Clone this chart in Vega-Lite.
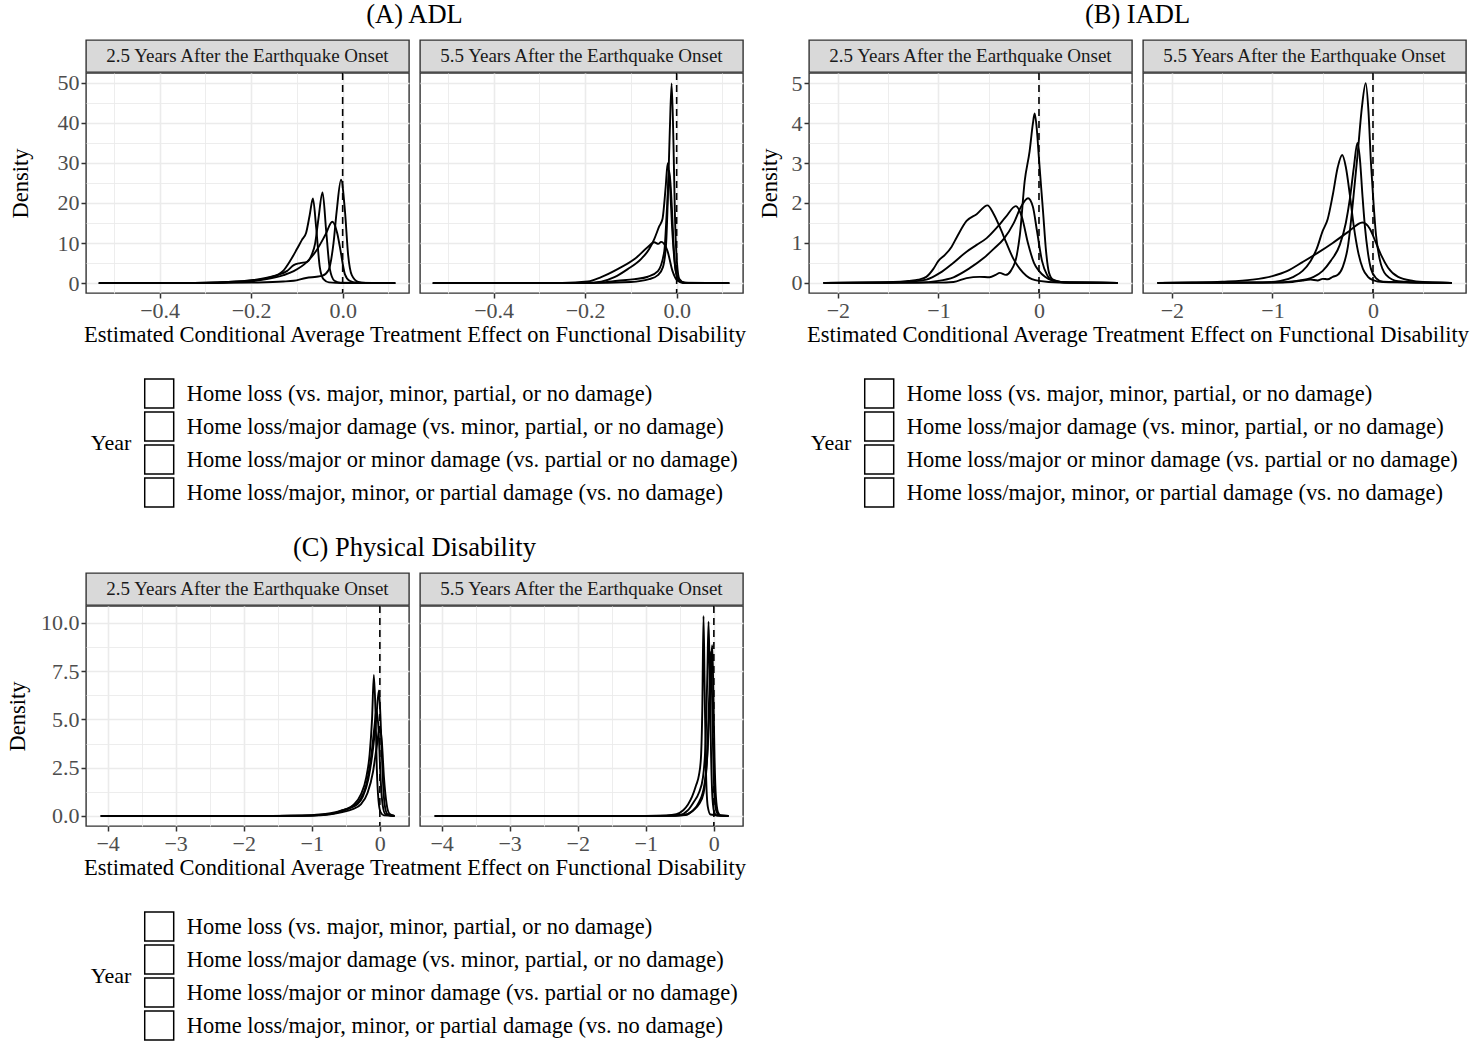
{
"$schema": "https://vega.github.io/schema/vega-lite/v6.json",
"padding": {"left": 5, "top": 0, "right": 0, "bottom": 0},
"background": "white",
"config": {
  "font": "Liberation Serif",
  "view": {"stroke": "#333333", "strokeWidth": 1.4},
  "axis": {"labelFont": "Liberation Serif", "titleFont": "Liberation Serif", "labelFontSize": 22, "titleFontSize": 22.5, "titleFontWeight": "normal", "labelColor": "#4d4d4d", "titleColor": "#000000", "tickColor": "#333333", "tickWidth": 1.5, "tickSize": 5, "labelPadding": 2, "domain": false, "gridColor": "#ebebeb", "gridWidth": 1.6, "titlePadding": 2, "labelFlush": false, "labelOverlap": false, "labelBound": false},
  "legend": {"titleFont": "Liberation Serif", "labelFont": "Liberation Serif", "titleFontSize": 22, "titleFontWeight": "normal", "titleColor": "#000000", "labelFontSize": 22.5, "labelColor": "#000000", "titleOrient": "left", "titleAnchor": "middle", "titleBaseline": "middle", "titlePadding": 12, "symbolType": "square", "symbolSize": 841, "symbolStrokeWidth": 1.5, "symbolFillColor": "white", "symbolStrokeColor": "black", "clipHeight": 33, "rowPadding": 0, "labelOffset": 12, "padding": 0, "labelLimit": 0, "direction": "vertical"},
  "title": {"font": "Liberation Serif", "fontSize": 26.5, "fontWeight": "normal", "color": "#000000"}
},
"datasets": {
  "groups": [
    {"g": 1, "label": "Home loss (vs. major, minor, partial, or no damage)"},
    {"g": 2, "label": "Home loss/major damage (vs. minor, partial, or no damage)"},
    {"g": 3, "label": "Home loss/major or minor damage (vs. partial or no damage)"},
    {"g": 4, "label": "Home loss/major, minor, or partial damage (vs. no damage)"}
  ],
  "A25": [
    {"g":1,"x":-0.533,"y":0},{"g":1,"x":-0.35,"y":0.05},{"g":1,"x":-0.25,"y":0.3},{"g":1,"x":-0.2,"y":0.6},{"g":1,"x":-0.166,"y":1.2},{"g":1,"x":-0.14,"y":2.2},{"g":1,"x":-0.129,"y":3.2},{"g":1,"x":-0.115,"y":5.5},{"g":1,"x":-0.1,"y":8.5},{"g":1,"x":-0.089,"y":10.8},{"g":1,"x":-0.08,"y":12.5},{"g":1,"x":-0.072,"y":17},{"g":1,"x":-0.065,"y":21.1},{"g":1,"x":-0.058,"y":14},{"g":1,"x":-0.05,"y":4},{"g":1,"x":-0.042,"y":1},{"g":1,"x":-0.03,"y":0.2},{"g":1,"x":0,"y":0.02},{"g":1,"x":0.115,"y":0},
    {"g":2,"x":-0.533,"y":0},{"g":2,"x":-0.35,"y":0.05},{"g":2,"x":-0.25,"y":0.3},{"g":2,"x":-0.195,"y":0.8},{"g":2,"x":-0.15,"y":1.8},{"g":2,"x":-0.122,"y":3},{"g":2,"x":-0.107,"y":4.5},{"g":2,"x":-0.093,"y":5},{"g":2,"x":-0.078,"y":5.3},{"g":2,"x":-0.068,"y":7},{"g":2,"x":-0.06,"y":10},{"g":2,"x":-0.053,"y":16},{"g":2,"x":-0.044,"y":22.6},{"g":2,"x":-0.036,"y":13},{"g":2,"x":-0.028,"y":3.5},{"g":2,"x":-0.018,"y":0.6},{"g":2,"x":-0.005,"y":0.1},{"g":2,"x":0.115,"y":0},
    {"g":3,"x":-0.533,"y":0},{"g":3,"x":-0.3,"y":0.05},{"g":3,"x":-0.2,"y":0.5},{"g":3,"x":-0.166,"y":1},{"g":3,"x":-0.129,"y":2},{"g":3,"x":-0.107,"y":3},{"g":3,"x":-0.078,"y":5.3},{"g":3,"x":-0.057,"y":8.2},{"g":3,"x":-0.038,"y":12},{"g":3,"x":-0.0225,"y":15.3},{"g":3,"x":-0.012,"y":12.5},{"g":3,"x":-0.006,"y":9},{"g":3,"x":0.005,"y":2.2},{"g":3,"x":0.015,"y":0.6},{"g":3,"x":0.03,"y":0.1},{"g":3,"x":0.115,"y":0},
    {"g":4,"x":-0.533,"y":0},{"g":4,"x":-0.3,"y":0.02},{"g":4,"x":-0.2,"y":0.15},{"g":4,"x":-0.13,"y":0.4},{"g":4,"x":-0.107,"y":0.6},{"g":4,"x":-0.08,"y":1.3},{"g":4,"x":-0.057,"y":1.6},{"g":4,"x":-0.045,"y":1.8},{"g":4,"x":-0.031,"y":3.2},{"g":4,"x":-0.02,"y":10},{"g":4,"x":-0.013,"y":18},{"g":4,"x":-0.0036,"y":25.8},{"g":4,"x":0.005,"y":18},{"g":4,"x":0.012,"y":7},{"g":4,"x":0.02,"y":2},{"g":4,"x":0.034,"y":0.3},{"g":4,"x":0.05,"y":0.05},{"g":4,"x":0.115,"y":0}
  ],
  "A55": [
    {"g":1,"x":-0.533,"y":0},{"g":1,"x":-0.2,"y":0.02},{"g":1,"x":-0.1,"y":0.3},{"g":1,"x":-0.06,"y":1},{"g":1,"x":-0.041,"y":2},{"g":1,"x":-0.03,"y":4},{"g":1,"x":-0.023,"y":10},{"g":1,"x":-0.0196,"y":20},{"g":1,"x":-0.015,"y":38},{"g":1,"x":-0.011,"y":49.8},{"g":1,"x":-0.007,"y":35},{"g":1,"x":-0.004,"y":18},{"g":1,"x":0.0007,"y":5},{"g":1,"x":0.006,"y":1},{"g":1,"x":0.017,"y":0.1},{"g":1,"x":0.115,"y":0},
    {"g":2,"x":-0.533,"y":0},{"g":2,"x":-0.2,"y":0.05},{"g":2,"x":-0.165,"y":0.4},{"g":2,"x":-0.136,"y":1.5},{"g":2,"x":-0.107,"y":3.5},{"g":2,"x":-0.078,"y":6},{"g":2,"x":-0.06,"y":8.5},{"g":2,"x":-0.049,"y":11},{"g":2,"x":-0.038,"y":14.2},{"g":2,"x":-0.031,"y":16},{"g":2,"x":-0.024,"y":24},{"g":2,"x":-0.0196,"y":29.9},{"g":2,"x":-0.015,"y":25},{"g":2,"x":-0.009,"y":12},{"g":2,"x":-0.002,"y":3},{"g":2,"x":0.006,"y":0.5},{"g":2,"x":0.02,"y":0.05},{"g":2,"x":0.115,"y":0},
    {"g":3,"x":-0.533,"y":0},{"g":3,"x":-0.25,"y":0.05},{"g":3,"x":-0.194,"y":0.4},{"g":3,"x":-0.165,"y":1.5},{"g":3,"x":-0.129,"y":3.5},{"g":3,"x":-0.092,"y":6},{"g":3,"x":-0.063,"y":9},{"g":3,"x":-0.049,"y":10.2},{"g":3,"x":-0.04,"y":9.8},{"g":3,"x":-0.034,"y":10.3},{"g":3,"x":-0.02,"y":8},{"g":3,"x":-0.009,"y":3},{"g":3,"x":0.002,"y":0.6},{"g":3,"x":0.015,"y":0.05},{"g":3,"x":0.115,"y":0},
    {"g":4,"x":-0.533,"y":0},{"g":4,"x":-0.2,"y":0.03},{"g":4,"x":-0.165,"y":0.2},{"g":4,"x":-0.129,"y":0.6},{"g":4,"x":-0.092,"y":1},{"g":4,"x":-0.063,"y":1.6},{"g":4,"x":-0.041,"y":3},{"g":4,"x":-0.027,"y":8},{"g":4,"x":-0.021,"y":19},{"g":4,"x":-0.016,"y":28},{"g":4,"x":-0.011,"y":20},{"g":4,"x":-0.006,"y":8},{"g":4,"x":0,"y":2},{"g":4,"x":0.01,"y":0.3},{"g":4,"x":0.025,"y":0.03},{"g":4,"x":0.115,"y":0}
  ],
  "B25": [
    {"g":1,"x":-2.143,"y":0},{"g":1,"x":-1.6,"y":0.01},{"g":1,"x":-1.45,"y":0.02},{"g":1,"x":-1.3,"y":0.05},{"g":1,"x":-1.2,"y":0.08},{"g":1,"x":-1.12,"y":0.15},{"g":1,"x":-1.05,"y":0.35},{"g":1,"x":-1.0,"y":0.55},{"g":1,"x":-0.935,"y":0.7},{"g":1,"x":-0.87,"y":0.9},{"g":1,"x":-0.82,"y":1.13},{"g":1,"x":-0.72,"y":1.55},{"g":1,"x":-0.62,"y":1.72},{"g":1,"x":-0.512,"y":1.94},{"g":1,"x":-0.456,"y":1.75},{"g":1,"x":-0.39,"y":1.4},{"g":1,"x":-0.324,"y":1.0},{"g":1,"x":-0.258,"y":0.62},{"g":1,"x":-0.19,"y":0.35},{"g":1,"x":-0.126,"y":0.18},{"g":1,"x":0,"y":0.05},{"g":1,"x":0.2,"y":0.01},{"g":1,"x":0.784,"y":0},
    {"g":2,"x":-2.143,"y":0},{"g":2,"x":-1.5,"y":0.01},{"g":2,"x":-1.28,"y":0.03},{"g":2,"x":-1.12,"y":0.08},{"g":2,"x":-0.985,"y":0.25},{"g":2,"x":-0.853,"y":0.5},{"g":2,"x":-0.72,"y":0.78},{"g":2,"x":-0.62,"y":0.95},{"g":2,"x":-0.52,"y":1.12},{"g":2,"x":-0.42,"y":1.38},{"g":2,"x":-0.33,"y":1.65},{"g":2,"x":-0.231,"y":1.92},{"g":2,"x":-0.17,"y":1.65},{"g":2,"x":-0.11,"y":1.0},{"g":2,"x":-0.05,"y":0.5},{"g":2,"x":0,"y":0.3},{"g":2,"x":0.06,"y":0.15},{"g":2,"x":0.14,"y":0.05},{"g":2,"x":0.3,"y":0.01},{"g":2,"x":0.784,"y":0},
    {"g":3,"x":-2.143,"y":0},{"g":3,"x":-1.2,"y":0.01},{"g":3,"x":-1.0,"y":0.05},{"g":3,"x":-0.85,"y":0.14},{"g":3,"x":-0.7,"y":0.35},{"g":3,"x":-0.55,"y":0.62},{"g":3,"x":-0.45,"y":0.85},{"g":3,"x":-0.35,"y":1.1},{"g":3,"x":-0.25,"y":1.5},{"g":3,"x":-0.18,"y":1.9},{"g":3,"x":-0.109,"y":2.12},{"g":3,"x":-0.06,"y":1.9},{"g":3,"x":-0.02,"y":1.3},{"g":3,"x":0.03,"y":0.55},{"g":3,"x":0.08,"y":0.2},{"g":3,"x":0.14,"y":0.06},{"g":3,"x":0.3,"y":0.01},{"g":3,"x":0.784,"y":0},
    {"g":4,"x":-2.143,"y":0},{"g":4,"x":-1.0,"y":0.005},{"g":4,"x":-0.85,"y":0.02},{"g":4,"x":-0.72,"y":0.12},{"g":4,"x":-0.59,"y":0.15},{"g":4,"x":-0.49,"y":0.14},{"g":4,"x":-0.43,"y":0.2},{"g":4,"x":-0.39,"y":0.25},{"g":4,"x":-0.33,"y":0.2},{"g":4,"x":-0.28,"y":0.3},{"g":4,"x":-0.22,"y":0.7},{"g":4,"x":-0.19,"y":1.2},{"g":4,"x":-0.142,"y":2.55},{"g":4,"x":-0.093,"y":3.3},{"g":4,"x":-0.06,"y":4.0},{"g":4,"x":-0.043,"y":4.24},{"g":4,"x":-0.02,"y":3.8},{"g":4,"x":0,"y":3.1},{"g":4,"x":0.04,"y":1.8},{"g":4,"x":0.07,"y":0.8},{"g":4,"x":0.1,"y":0.25},{"g":4,"x":0.14,"y":0.08},{"g":4,"x":0.25,"y":0.01},{"g":4,"x":0.784,"y":0}
  ],
  "B55": [
    {"g":1,"x":-2.143,"y":0},{"g":1,"x":-1.0,"y":0.005},{"g":1,"x":-0.8,"y":0.02},{"g":1,"x":-0.7,"y":0.06},{"g":1,"x":-0.62,"y":0.08},{"g":1,"x":-0.55,"y":0.06},{"g":1,"x":-0.5,"y":0.1},{"g":1,"x":-0.45,"y":0.09},{"g":1,"x":-0.4,"y":0.15},{"g":1,"x":-0.35,"y":0.2},{"g":1,"x":-0.3,"y":0.4},{"g":1,"x":-0.25,"y":0.9},{"g":1,"x":-0.2,"y":2.0},{"g":1,"x":-0.15,"y":3.3},{"g":1,"x":-0.11,"y":4.4},{"g":1,"x":-0.072,"y":5.0},{"g":1,"x":-0.045,"y":4.3},{"g":1,"x":-0.02,"y":3.0},{"g":1,"x":0,"y":2.2},{"g":1,"x":0.03,"y":1.2},{"g":1,"x":0.066,"y":0.6},{"g":1,"x":0.13,"y":0.2},{"g":1,"x":0.25,"y":0.04},{"g":1,"x":0.5,"y":0.005},{"g":1,"x":0.784,"y":0},
    {"g":2,"x":-2.143,"y":0},{"g":2,"x":-1.0,"y":0.01},{"g":2,"x":-0.76,"y":0.05},{"g":2,"x":-0.59,"y":0.15},{"g":2,"x":-0.5,"y":0.3},{"g":2,"x":-0.42,"y":0.55},{"g":2,"x":-0.33,"y":0.95},{"g":2,"x":-0.27,"y":1.5},{"g":2,"x":-0.23,"y":2.1},{"g":2,"x":-0.19,"y":2.9},{"g":2,"x":-0.155,"y":3.5},{"g":2,"x":-0.13,"y":3.1},{"g":2,"x":-0.105,"y":2.2},{"g":2,"x":-0.08,"y":1.4},{"g":2,"x":-0.05,"y":0.75},{"g":2,"x":-0.02,"y":0.35},{"g":2,"x":0.03,"y":0.12},{"g":2,"x":0.1,"y":0.03},{"g":2,"x":0.784,"y":0},
    {"g":3,"x":-2.143,"y":0},{"g":3,"x":-1.1,"y":0.01},{"g":3,"x":-0.92,"y":0.05},{"g":3,"x":-0.79,"y":0.15},{"g":3,"x":-0.7,"y":0.3},{"g":3,"x":-0.62,"y":0.55},{"g":3,"x":-0.56,"y":0.85},{"g":3,"x":-0.5,"y":1.3},{"g":3,"x":-0.45,"y":1.6},{"g":3,"x":-0.4,"y":2.2},{"g":3,"x":-0.35,"y":2.9},{"g":3,"x":-0.306,"y":3.2},{"g":3,"x":-0.27,"y":2.9},{"g":3,"x":-0.23,"y":2.2},{"g":3,"x":-0.19,"y":1.4},{"g":3,"x":-0.15,"y":0.8},{"g":3,"x":-0.1,"y":0.35},{"g":3,"x":-0.05,"y":0.15},{"g":3,"x":0,"y":0.07},{"g":3,"x":0.1,"y":0.02},{"g":3,"x":0.784,"y":0},
    {"g":4,"x":-2.143,"y":0},{"g":4,"x":-1.8,"y":0.01},{"g":4,"x":-1.5,"y":0.03},{"g":4,"x":-1.2,"y":0.08},{"g":4,"x":-1.0,"y":0.17},{"g":4,"x":-0.85,"y":0.3},{"g":4,"x":-0.7,"y":0.52},{"g":4,"x":-0.55,"y":0.75},{"g":4,"x":-0.4,"y":1.0},{"g":4,"x":-0.25,"y":1.27},{"g":4,"x":-0.105,"y":1.51},{"g":4,"x":-0.03,"y":1.35},{"g":4,"x":0.03,"y":1.0},{"g":4,"x":0.08,"y":0.7},{"g":4,"x":0.15,"y":0.38},{"g":4,"x":0.25,"y":0.15},{"g":4,"x":0.4,"y":0.05},{"g":4,"x":0.55,"y":0.015},{"g":4,"x":0.784,"y":0}
  ],
  "C25": [
    {"g":1,"x":-4.1,"y":0},{"g":1,"x":-2.0,"y":0.002},{"g":1,"x":-1.3,"y":0.01},{"g":1,"x":-1.0,"y":0.04},{"g":1,"x":-0.8,"y":0.1},{"g":1,"x":-0.65,"y":0.2},{"g":1,"x":-0.5,"y":0.35},{"g":1,"x":-0.38,"y":0.6},{"g":1,"x":-0.28,"y":1.1},{"g":1,"x":-0.2,"y":2.0},{"g":1,"x":-0.15,"y":3.2},{"g":1,"x":-0.115,"y":5.0},{"g":1,"x":-0.088,"y":7.3},{"g":1,"x":-0.065,"y":5.5},{"g":1,"x":-0.045,"y":2.5},{"g":1,"x":-0.02,"y":0.8},{"g":1,"x":0.01,"y":0.2},{"g":1,"x":0.06,"y":0.03},{"g":1,"x":0.215,"y":0},
    {"g":2,"x":-4.1,"y":0},{"g":2,"x":-1.5,"y":0.005},{"g":2,"x":-1.0,"y":0.03},{"g":2,"x":-0.8,"y":0.08},{"g":2,"x":-0.6,"y":0.2},{"g":2,"x":-0.45,"y":0.4},{"g":2,"x":-0.33,"y":0.6},{"g":2,"x":-0.25,"y":1.0},{"g":2,"x":-0.17,"y":1.9},{"g":2,"x":-0.1,"y":3.5},{"g":2,"x":-0.05,"y":5.2},{"g":2,"x":-0.015,"y":6.5},{"g":2,"x":0.01,"y":5.0},{"g":2,"x":0.04,"y":2.2},{"g":2,"x":0.07,"y":0.6},{"g":2,"x":0.11,"y":0.1},{"g":2,"x":0.215,"y":0},
    {"g":3,"x":-4.1,"y":0},{"g":3,"x":-1.5,"y":0.005},{"g":3,"x":-1.0,"y":0.02},{"g":3,"x":-0.7,"y":0.12},{"g":3,"x":-0.55,"y":0.3},{"g":3,"x":-0.42,"y":0.45},{"g":3,"x":-0.3,"y":0.8},{"g":3,"x":-0.2,"y":1.6},{"g":3,"x":-0.13,"y":3.0},{"g":3,"x":-0.08,"y":4.6},{"g":3,"x":-0.05,"y":5.5},{"g":3,"x":-0.02,"y":4.5},{"g":3,"x":0.01,"y":2.0},{"g":3,"x":0.04,"y":0.6},{"g":3,"x":0.08,"y":0.1},{"g":3,"x":0.215,"y":0},
    {"g":4,"x":-4.1,"y":0},{"g":4,"x":-1.5,"y":0.005},{"g":4,"x":-1.0,"y":0.02},{"g":4,"x":-0.75,"y":0.08},{"g":4,"x":-0.55,"y":0.2},{"g":4,"x":-0.4,"y":0.35},{"g":4,"x":-0.28,"y":0.6},{"g":4,"x":-0.18,"y":1.2},{"g":4,"x":-0.1,"y":2.3},{"g":4,"x":-0.05,"y":3.5},{"g":4,"x":0,"y":4.6},{"g":4,"x":0.03,"y":3.8},{"g":4,"x":0.06,"y":2.0},{"g":4,"x":0.1,"y":0.6},{"g":4,"x":0.14,"y":0.12},{"g":4,"x":0.215,"y":0}
  ],
  "C55": [
    {"g":1,"x":-4.1,"y":0},{"g":1,"x":-1.0,"y":0.005},{"g":1,"x":-0.7,"y":0.03},{"g":1,"x":-0.55,"y":0.1},{"g":1,"x":-0.45,"y":0.3},{"g":1,"x":-0.38,"y":0.6},{"g":1,"x":-0.32,"y":1.0},{"g":1,"x":-0.26,"y":1.6},{"g":1,"x":-0.22,"y":2.1},{"g":1,"x":-0.19,"y":3.0},{"g":1,"x":-0.17,"y":5.5},{"g":1,"x":-0.152,"y":10.35},{"g":1,"x":-0.135,"y":6.5},{"g":1,"x":-0.115,"y":2.2},{"g":1,"x":-0.09,"y":0.5},{"g":1,"x":-0.05,"y":0.08},{"g":1,"x":0.215,"y":0},
    {"g":2,"x":-4.1,"y":0},{"g":2,"x":-0.8,"y":0.005},{"g":2,"x":-0.5,"y":0.06},{"g":2,"x":-0.38,"y":0.3},{"g":2,"x":-0.3,"y":0.7},{"g":2,"x":-0.22,"y":1.2},{"g":2,"x":-0.16,"y":2.0},{"g":2,"x":-0.12,"y":4.0},{"g":2,"x":-0.095,"y":7.5},{"g":2,"x":-0.078,"y":10.05},{"g":2,"x":-0.06,"y":7.0},{"g":2,"x":-0.04,"y":3.0},{"g":2,"x":-0.02,"y":0.9},{"g":2,"x":0.01,"y":0.15},{"g":2,"x":0.05,"y":0.02},{"g":2,"x":0.215,"y":0},
    {"g":3,"x":-4.1,"y":0},{"g":3,"x":-0.7,"y":0.005},{"g":3,"x":-0.45,"y":0.05},{"g":3,"x":-0.32,"y":0.25},{"g":3,"x":-0.22,"y":0.7},{"g":3,"x":-0.14,"y":1.6},{"g":3,"x":-0.09,"y":3.5},{"g":3,"x":-0.055,"y":6.5},{"g":3,"x":-0.035,"y":8.3},{"g":3,"x":-0.024,"y":8.84},{"g":3,"x":-0.008,"y":6.5},{"g":3,"x":0.01,"y":3.0},{"g":3,"x":0.03,"y":1.0},{"g":3,"x":0.06,"y":0.2},{"g":3,"x":0.1,"y":0.03},{"g":3,"x":0.215,"y":0},
    {"g":4,"x":-4.1,"y":0},{"g":4,"x":-0.7,"y":0.005},{"g":4,"x":-0.42,"y":0.05},{"g":4,"x":-0.3,"y":0.3},{"g":4,"x":-0.22,"y":0.6},{"g":4,"x":-0.15,"y":1.2},{"g":4,"x":-0.1,"y":3.0},{"g":4,"x":-0.07,"y":6.0},{"g":4,"x":-0.045,"y":8.5},{"g":4,"x":-0.03,"y":6.8},{"g":4,"x":-0.012,"y":3.5},{"g":4,"x":0.01,"y":1.0},{"g":4,"x":0.04,"y":0.2},{"g":4,"x":0.08,"y":0.03},{"g":4,"x":0.215,"y":0}
  ]
},
"resolve": {"scale": {"color": "independent"}, "legend": {"color": "independent"}},
"spacing": 24,
"vconcat": [
 {
  "resolve": {"scale": {"color": "independent"}, "legend": {"color": "independent"}},
  "spacing": 9,
  "hconcat": [
   {
    "spacing": -3,
    "vconcat": [
     {"spacing": 11, "bounds": "flush", "hconcat": [
       {"width": 323, "height": 32, "title": {"text": "(A) ADL", "frame": "group", "anchor": "middle", "dx": 167, "offset": 12}, "view": {"fill": "#d9d9d9", "stroke": "#333333", "strokeWidth": 1.4}, "data": {"values": [{"t": "2.5 Years After the Earthquake Onset"}]}, "mark": {"type": "text", "font": "Liberation Serif", "fontSize": 19, "color": "#1a1a1a", "baseline": "middle"}, "encoding": {"text": {"field": "t", "type": "nominal"}}},
       {"width": 323, "height": 32, "view": {"fill": "#d9d9d9", "stroke": "#333333", "strokeWidth": 1.4}, "data": {"values": [{"t": "5.5 Years After the Earthquake Onset"}]}, "mark": {"type": "text", "font": "Liberation Serif", "fontSize": 19, "color": "#1a1a1a", "baseline": "middle"}, "encoding": {"text": {"field": "t", "type": "nominal"}}}
     ]},
     {"spacing": 11, "bounds": "flush", "hconcat": [
       {"width": 323, "height": 220, "resolve": {"axis": {"x": "independent", "y": "independent"}}, "layer": [
         {"data": {"values": [{}]}, "mark": {"type": "point", "opacity": 0}, "encoding": {
           "x": {"datum": 0, "type": "quantitative", "scale": {"domain": [-0.561, 0.145], "nice": false, "zero": false}, "axis": {"orient": "bottom", "values": [-0.5, -0.3, -0.1, 0.1], "grid": true, "gridWidth": 0.9, "labels": false, "ticks": false, "title": null}},
           "y": {"datum": 0, "type": "quantitative", "scale": {"domain": [-2.45, 52.4], "nice": false, "zero": false}, "axis": {"orient": "left", "values": [5, 15, 25, 35, 45], "grid": true, "gridWidth": 0.9, "labels": false, "ticks": false, "title": null}}}},
         {"data": {"name": "A25"}, "transform": [{"lookup": "g", "from": {"data": {"name": "groups"}, "key": "g", "fields": ["label"]}}], "mark": {"type": "line", "interpolate": "monotone", "strokeWidth": 1.9}, "encoding": {
           "x": {"field": "x", "type": "quantitative", "scale": {"domain": [-0.561, 0.145], "nice": false, "zero": false}, "axis": {"orient": "bottom", "values": [-0.4, -0.2, 0], "format": ".1f", "grid": true, "title": "Estimated Conditional Average Treatment Effect on Functional Disability", "titleX": 328.5, "titleAlign": "center"}},
           "y": {"field": "y", "type": "quantitative", "scale": {"domain": [-2.45, 52.4], "nice": false, "zero": false}, "axis": {"orient": "left", "values": [0, 10, 20, 30, 40, 50], "grid": true, "title": "Density", "titlePadding": 25}},
           "color": {"field": "label", "type": "nominal", "scale": {"domain": ["Home loss (vs. major, minor, partial, or no damage)", "Home loss/major damage (vs. minor, partial, or no damage)", "Home loss/major or minor damage (vs. partial or no damage)", "Home loss/major, minor, or partial damage (vs. no damage)"], "range": ["#000000", "#000000", "#000000", "#000000"]}, "legend": {"orient": "none", "legendX": 4.7, "legendY": 337, "title": "Year"}}}},
         {"data": {"values": [{}]}, "mark": {"type": "rule", "strokeDash": [7, 5], "strokeWidth": 1.6, "color": "#000000"}, "encoding": {"x": {"datum": 0, "type": "quantitative", "axis": null}}}
       ]},
       {"width": 323, "height": 220, "resolve": {"axis": {"x": "independent", "y": "independent"}}, "layer": [
         {"data": {"values": [{}]}, "mark": {"type": "point", "opacity": 0}, "encoding": {
           "x": {"datum": 0, "type": "quantitative", "scale": {"domain": [-0.561, 0.145], "nice": false, "zero": false}, "axis": {"orient": "bottom", "values": [-0.5, -0.3, -0.1, 0.1], "grid": true, "gridWidth": 0.9, "labels": false, "ticks": false, "title": null}},
           "y": {"datum": 0, "type": "quantitative", "scale": {"domain": [-2.45, 52.4], "nice": false, "zero": false}, "axis": {"orient": "left", "values": [5, 15, 25, 35, 45], "grid": true, "gridWidth": 0.9, "labels": false, "ticks": false, "title": null}}}},
         {"data": {"name": "A55"}, "transform": [{"lookup": "g", "from": {"data": {"name": "groups"}, "key": "g", "fields": ["label"]}}], "mark": {"type": "line", "interpolate": "monotone", "strokeWidth": 1.9}, "encoding": {
           "x": {"field": "x", "type": "quantitative", "scale": {"domain": [-0.561, 0.145], "nice": false, "zero": false}, "axis": {"orient": "bottom", "values": [-0.4, -0.2, 0], "format": ".1f", "grid": true, "title": null}},
           "y": {"field": "y", "type": "quantitative", "scale": {"domain": [-2.45, 52.4], "nice": false, "zero": false}, "axis": {"orient": "left", "values": [0, 10, 20, 30, 40, 50], "grid": true, "labels": false, "ticks": false, "title": null}},
           "color": {"field": "label", "type": "nominal", "scale": {"domain": ["Home loss (vs. major, minor, partial, or no damage)", "Home loss/major damage (vs. minor, partial, or no damage)", "Home loss/major or minor damage (vs. partial or no damage)", "Home loss/major, minor, or partial damage (vs. no damage)"], "range": ["#000000", "#000000", "#000000", "#000000"]}, "legend": {"orient": "none", "legendX": 4.7, "legendY": 337, "title": "Year"}}}},
         {"data": {"values": [{}]}, "mark": {"type": "rule", "strokeDash": [7, 5], "strokeWidth": 1.6, "color": "#000000"}, "encoding": {"x": {"datum": 0, "type": "quantitative", "axis": null}}}
       ]}
     ]}
    ]
   },
   {
    "spacing": -2,
    "vconcat": [
     {"spacing": 11, "bounds": "flush", "hconcat": [
       {"width": 323, "height": 32, "title": {"text": "(B) IADL", "frame": "group", "anchor": "middle", "dx": 167, "offset": 12}, "view": {"fill": "#d9d9d9", "stroke": "#333333", "strokeWidth": 1.4}, "data": {"values": [{"t": "2.5 Years After the Earthquake Onset"}]}, "mark": {"type": "text", "font": "Liberation Serif", "fontSize": 19, "color": "#1a1a1a", "baseline": "middle"}, "encoding": {"text": {"field": "t", "type": "nominal"}}},
       {"width": 323, "height": 32, "view": {"fill": "#d9d9d9", "stroke": "#333333", "strokeWidth": 1.4}, "data": {"values": [{"t": "5.5 Years After the Earthquake Onset"}]}, "mark": {"type": "text", "font": "Liberation Serif", "fontSize": 19, "color": "#1a1a1a", "baseline": "middle"}, "encoding": {"text": {"field": "t", "type": "nominal"}}}
     ]},
     {"spacing": 11, "bounds": "flush", "hconcat": [
       {"width": 323, "height": 220, "resolve": {"axis": {"x": "independent", "y": "independent"}}, "layer": [
         {"data": {"values": [{}]}, "mark": {"type": "point", "opacity": 0}, "encoding": {
           "x": {"datum": 0, "type": "quantitative", "scale": {"domain": [-2.287, 0.925], "nice": false, "zero": false}, "axis": {"orient": "bottom", "values": [-1.5, -0.5, 0.5], "grid": true, "gridWidth": 0.9, "labels": false, "ticks": false, "title": null}},
           "y": {"datum": 0, "type": "quantitative", "scale": {"domain": [-0.254, 5.254], "nice": false, "zero": false}, "axis": {"orient": "left", "values": [0.5, 1.5, 2.5, 3.5, 4.5], "grid": true, "gridWidth": 0.9, "labels": false, "ticks": false, "title": null}}}},
         {"data": {"name": "B25"}, "transform": [{"lookup": "g", "from": {"data": {"name": "groups"}, "key": "g", "fields": ["label"]}}], "mark": {"type": "line", "interpolate": "monotone", "strokeWidth": 1.9}, "encoding": {
           "x": {"field": "x", "type": "quantitative", "scale": {"domain": [-2.287, 0.925], "nice": false, "zero": false}, "axis": {"orient": "bottom", "values": [-2, -1, 0], "format": "d", "grid": true, "title": "Estimated Conditional Average Treatment Effect on Functional Disability", "titleX": 328.5, "titleAlign": "center"}},
           "y": {"field": "y", "type": "quantitative", "scale": {"domain": [-0.254, 5.254], "nice": false, "zero": false}, "axis": {"orient": "left", "values": [0, 1, 2, 3, 4, 5], "format": "d", "grid": true, "title": "Density", "titlePadding": 10}},
           "color": {"field": "label", "type": "nominal", "scale": {"domain": ["Home loss (vs. major, minor, partial, or no damage)", "Home loss/major damage (vs. minor, partial, or no damage)", "Home loss/major or minor damage (vs. partial or no damage)", "Home loss/major, minor, or partial damage (vs. no damage)"], "range": ["#000000", "#000000", "#000000", "#000000"]}, "legend": {"orient": "none", "legendX": 1.7, "legendY": 337, "title": "Year"}}}},
         {"data": {"values": [{}]}, "mark": {"type": "rule", "strokeDash": [7, 5], "strokeWidth": 1.6, "color": "#000000"}, "encoding": {"x": {"datum": 0, "type": "quantitative", "axis": null}}}
       ]},
       {"width": 323, "height": 220, "resolve": {"axis": {"x": "independent", "y": "independent"}}, "layer": [
         {"data": {"values": [{}]}, "mark": {"type": "point", "opacity": 0}, "encoding": {
           "x": {"datum": 0, "type": "quantitative", "scale": {"domain": [-2.287, 0.925], "nice": false, "zero": false}, "axis": {"orient": "bottom", "values": [-1.5, -0.5, 0.5], "grid": true, "gridWidth": 0.9, "labels": false, "ticks": false, "title": null}},
           "y": {"datum": 0, "type": "quantitative", "scale": {"domain": [-0.254, 5.254], "nice": false, "zero": false}, "axis": {"orient": "left", "values": [0.5, 1.5, 2.5, 3.5, 4.5], "grid": true, "gridWidth": 0.9, "labels": false, "ticks": false, "title": null}}}},
         {"data": {"name": "B55"}, "transform": [{"lookup": "g", "from": {"data": {"name": "groups"}, "key": "g", "fields": ["label"]}}], "mark": {"type": "line", "interpolate": "monotone", "strokeWidth": 1.9}, "encoding": {
           "x": {"field": "x", "type": "quantitative", "scale": {"domain": [-2.287, 0.925], "nice": false, "zero": false}, "axis": {"orient": "bottom", "values": [-2, -1, 0], "format": "d", "grid": true, "title": null}},
           "y": {"field": "y", "type": "quantitative", "scale": {"domain": [-0.254, 5.254], "nice": false, "zero": false}, "axis": {"orient": "left", "values": [0, 1, 2, 3, 4, 5], "grid": true, "labels": false, "ticks": false, "title": null}},
           "color": {"field": "label", "type": "nominal", "scale": {"domain": ["Home loss (vs. major, minor, partial, or no damage)", "Home loss/major damage (vs. minor, partial, or no damage)", "Home loss/major or minor damage (vs. partial or no damage)", "Home loss/major, minor, or partial damage (vs. no damage)"], "range": ["#000000", "#000000", "#000000", "#000000"]}, "legend": {"orient": "none", "legendX": 1.7, "legendY": 337, "title": "Year"}}}},
         {"data": {"values": [{}]}, "mark": {"type": "rule", "strokeDash": [7, 5], "strokeWidth": 1.6, "color": "#000000"}, "encoding": {"x": {"datum": 0, "type": "quantitative", "axis": null}}}
       ]}
     ]}
    ]
   }
  ]
 },
 {
  "spacing": -2,
  "vconcat": [
   {"spacing": 11, "bounds": "flush", "hconcat": [
     {"width": 323, "height": 32, "title": {"text": "(C) Physical Disability", "frame": "group", "anchor": "middle", "dx": 167, "offset": 12}, "view": {"fill": "#d9d9d9", "stroke": "#333333", "strokeWidth": 1.4}, "data": {"values": [{"t": "2.5 Years After the Earthquake Onset"}]}, "mark": {"type": "text", "font": "Liberation Serif", "fontSize": 19, "color": "#1a1a1a", "baseline": "middle"}, "encoding": {"text": {"field": "t", "type": "nominal"}}},
     {"width": 323, "height": 32, "view": {"fill": "#d9d9d9", "stroke": "#333333", "strokeWidth": 1.4}, "data": {"values": [{"t": "5.5 Years After the Earthquake Onset"}]}, "mark": {"type": "text", "font": "Liberation Serif", "fontSize": 19, "color": "#1a1a1a", "baseline": "middle"}, "encoding": {"text": {"field": "t", "type": "nominal"}}}
   ]},
   {"spacing": 11, "bounds": "flush", "hconcat": [
     {"width": 323, "height": 220, "resolve": {"axis": {"x": "independent", "y": "independent"}}, "layer": [
       {"data": {"values": [{}]}, "mark": {"type": "point", "opacity": 0}, "encoding": {
         "x": {"datum": 0, "type": "quantitative", "scale": {"domain": [-4.317, 0.428], "nice": false, "zero": false}, "axis": {"orient": "bottom", "values": [-3.5, -2.5, -1.5, -0.5], "grid": true, "gridWidth": 0.9, "labels": false, "ticks": false, "title": null}},
         "y": {"datum": 0, "type": "quantitative", "scale": {"domain": [-0.518, 10.868], "nice": false, "zero": false}, "axis": {"orient": "left", "values": [1.25, 3.75, 6.25, 8.75], "grid": true, "gridWidth": 0.9, "labels": false, "ticks": false, "title": null}}}},
       {"data": {"name": "C25"}, "transform": [{"lookup": "g", "from": {"data": {"name": "groups"}, "key": "g", "fields": ["label"]}}], "mark": {"type": "line", "interpolate": "monotone", "strokeWidth": 1.9}, "encoding": {
         "x": {"field": "x", "type": "quantitative", "scale": {"domain": [-4.317, 0.428], "nice": false, "zero": false}, "axis": {"orient": "bottom", "values": [-4, -3, -2, -1, 0], "format": "d", "grid": true, "title": "Estimated Conditional Average Treatment Effect on Functional Disability", "titleX": 328.5, "titleAlign": "center"}},
         "y": {"field": "y", "type": "quantitative", "scale": {"domain": [-0.518, 10.868], "nice": false, "zero": false}, "axis": {"orient": "left", "values": [0, 2.5, 5, 7.5, 10], "format": ".1f", "grid": true, "title": "Density", "titlePadding": 11}},
         "color": {"field": "label", "type": "nominal", "scale": {"domain": ["Home loss (vs. major, minor, partial, or no damage)", "Home loss/major damage (vs. minor, partial, or no damage)", "Home loss/major or minor damage (vs. partial or no damage)", "Home loss/major, minor, or partial damage (vs. no damage)"], "range": ["#000000", "#000000", "#000000", "#000000"]}, "legend": {"orient": "none", "legendX": 4.7, "legendY": 337, "title": "Year"}}}},
       {"data": {"values": [{}]}, "mark": {"type": "rule", "strokeDash": [7, 5], "strokeWidth": 1.6, "color": "#000000"}, "encoding": {"x": {"datum": 0, "type": "quantitative", "axis": null}}}
     ]},
     {"width": 323, "height": 220, "resolve": {"axis": {"x": "independent", "y": "independent"}}, "layer": [
       {"data": {"values": [{}]}, "mark": {"type": "point", "opacity": 0}, "encoding": {
         "x": {"datum": 0, "type": "quantitative", "scale": {"domain": [-4.317, 0.428], "nice": false, "zero": false}, "axis": {"orient": "bottom", "values": [-3.5, -2.5, -1.5, -0.5], "grid": true, "gridWidth": 0.9, "labels": false, "ticks": false, "title": null}},
         "y": {"datum": 0, "type": "quantitative", "scale": {"domain": [-0.518, 10.868], "nice": false, "zero": false}, "axis": {"orient": "left", "values": [1.25, 3.75, 6.25, 8.75], "grid": true, "gridWidth": 0.9, "labels": false, "ticks": false, "title": null}}}},
       {"data": {"name": "C55"}, "transform": [{"lookup": "g", "from": {"data": {"name": "groups"}, "key": "g", "fields": ["label"]}}], "mark": {"type": "line", "interpolate": "monotone", "strokeWidth": 1.9}, "encoding": {
         "x": {"field": "x", "type": "quantitative", "scale": {"domain": [-4.317, 0.428], "nice": false, "zero": false}, "axis": {"orient": "bottom", "values": [-4, -3, -2, -1, 0], "format": "d", "grid": true, "title": null}},
         "y": {"field": "y", "type": "quantitative", "scale": {"domain": [-0.518, 10.868], "nice": false, "zero": false}, "axis": {"orient": "left", "values": [0, 2.5, 5, 7.5, 10], "grid": true, "labels": false, "ticks": false, "title": null}},
         "color": {"field": "label", "type": "nominal", "scale": {"domain": ["Home loss (vs. major, minor, partial, or no damage)", "Home loss/major damage (vs. minor, partial, or no damage)", "Home loss/major or minor damage (vs. partial or no damage)", "Home loss/major, minor, or partial damage (vs. no damage)"], "range": ["#000000", "#000000", "#000000", "#000000"]}, "legend": {"orient": "none", "legendX": 4.7, "legendY": 337, "title": "Year"}}}},
       {"data": {"values": [{}]}, "mark": {"type": "rule", "strokeDash": [7, 5], "strokeWidth": 1.6, "color": "#000000"}, "encoding": {"x": {"datum": 0, "type": "quantitative", "axis": null}}}
     ]}
   ]}
  ]
 }
]
}
